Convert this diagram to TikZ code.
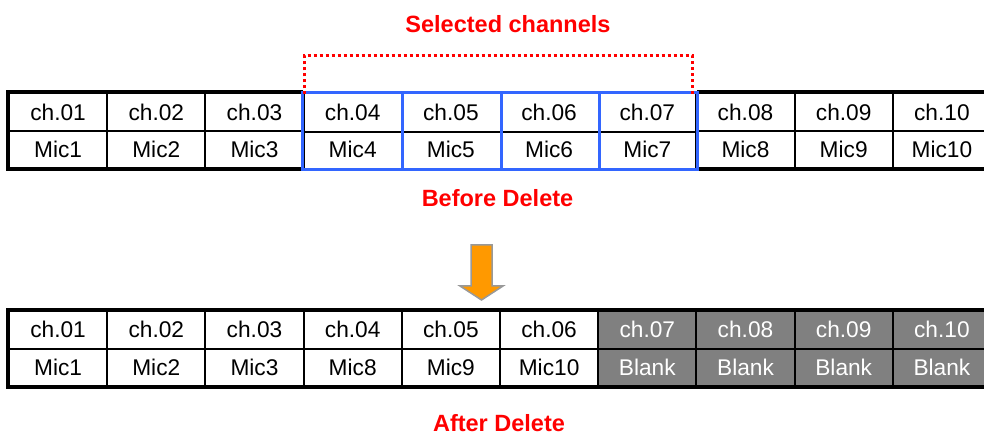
\documentclass[tikz,border=0pt]{standalone}
\usepackage{fontspec}
\setmainfont{Liberation Sans}
\definecolor{selblue}{RGB}{51,102,255}
\definecolor{arroworange}{RGB}{255,153,0}
\definecolor{blankgray}{RGB}{128,128,128}
\begin{document}
\begin{tikzpicture}[x=1pt,y=-1pt,
  cell/.style={draw=black,line width=2pt,minimum width=98.2pt,minimum height=37.5pt,inner sep=0pt,
    font=\fontsize{22.7}{26}\selectfont},
  selcell/.style={cell,draw=none},
  blankcell/.style={cell,fill=blankgray,text=white},
  title/.style={text=red,font=\fontsize{23.5}{27}\selectfont\bfseries,inner sep=0pt}]
\useasboundingbox (0,0) rectangle (984,435);
\begin{scope}
\clip (0,0) rectangle (984,435);
% top table
\foreach \i in {1,2,3,8,9,10}{
  \pgfmathsetmacro{\cx}{9+98.2*(\i-0.5)}
  \node[cell] (ta\i) at (\cx,112.25) {ch.\ifnum\i<10 0\fi\i};
  \node[cell] (tb\i) at (\cx,149.75) {Mic\i};
}
\foreach \i in {4,5,6,7}{
  \pgfmathsetmacro{\cx}{9+98.2*(\i-0.5)}
  \node[selcell] (ta\i) at (\cx,112.25) {ch.0\i};
  \node[selcell] (tb\i) at (\cx,149.75) {Mic\i};
}
\draw[line width=2pt] (ta4.south west) -- (ta7.south east);
\draw[line width=4pt,line join=miter] (ta4.north west) -- (ta1.north west) -- (tb1.south west) -- (tb4.south west);
\draw[line width=4pt,line join=miter] (ta7.north east) -- (ta10.north east) -- (tb10.south east) -- (tb7.south east);
% selected channels
\draw[selblue,line width=3pt] (ta4.north west) rectangle (tb7.south east);
\foreach \i in {4,5,6}{
  \draw[selblue,line width=3pt] (ta\i.north east) -- (tb\i.south east);
}
% bottom table
\foreach \i/\m in {1/1,2/2,3/3,4/8,5/9,6/10}{
  \pgfmathsetmacro{\cx}{9+98.2*(\i-0.5)}
  \node[cell] (ba\i) at (\cx,329.75) {ch.\ifnum\i<10 0\fi\i};
  \node[cell] (bb\i) at (\cx,367.25) {Mic\m};
}
\foreach \i in {7,8,9,10}{
  \pgfmathsetmacro{\cx}{9+98.2*(\i-0.5)}
  \node[blankcell] (ba\i) at (\cx,329.75) {ch.\ifnum\i<10 0\fi\i};
  \node[blankcell] (bb\i) at (\cx,367.25) {Blank};
}
\draw[line width=4pt] (ba1.north west) rectangle (bb10.south east);
\end{scope}
% dotted bracket
\coordinate (dl) at ([xshift=1.5pt]ta4.north west);
\coordinate (dr) at ([xshift=-5pt]ta7.north east);
\draw[red,line width=3pt,dash pattern=on 3pt off 3pt] ([yshift=-2pt]dl) -- (dl |- 0,56) -- (dr |- 0,56) -- ([yshift=-2pt]dr);
% titles
\node[title] (sel) at (508,24) {Selected channels};
\node[title] (before) at (497.5,198) {Before Delete};
\node[title] (after) at (499,423) {After Delete};
% arrow
\draw[fill=arroworange,draw=gray!80,line width=1.5pt,line join=miter]
  (471,245) -- (492,245) -- (492,286) -- (503,286) -- (481.5,300) -- (460,286) -- (471,286) -- cycle;
\end{tikzpicture}
\end{document}
